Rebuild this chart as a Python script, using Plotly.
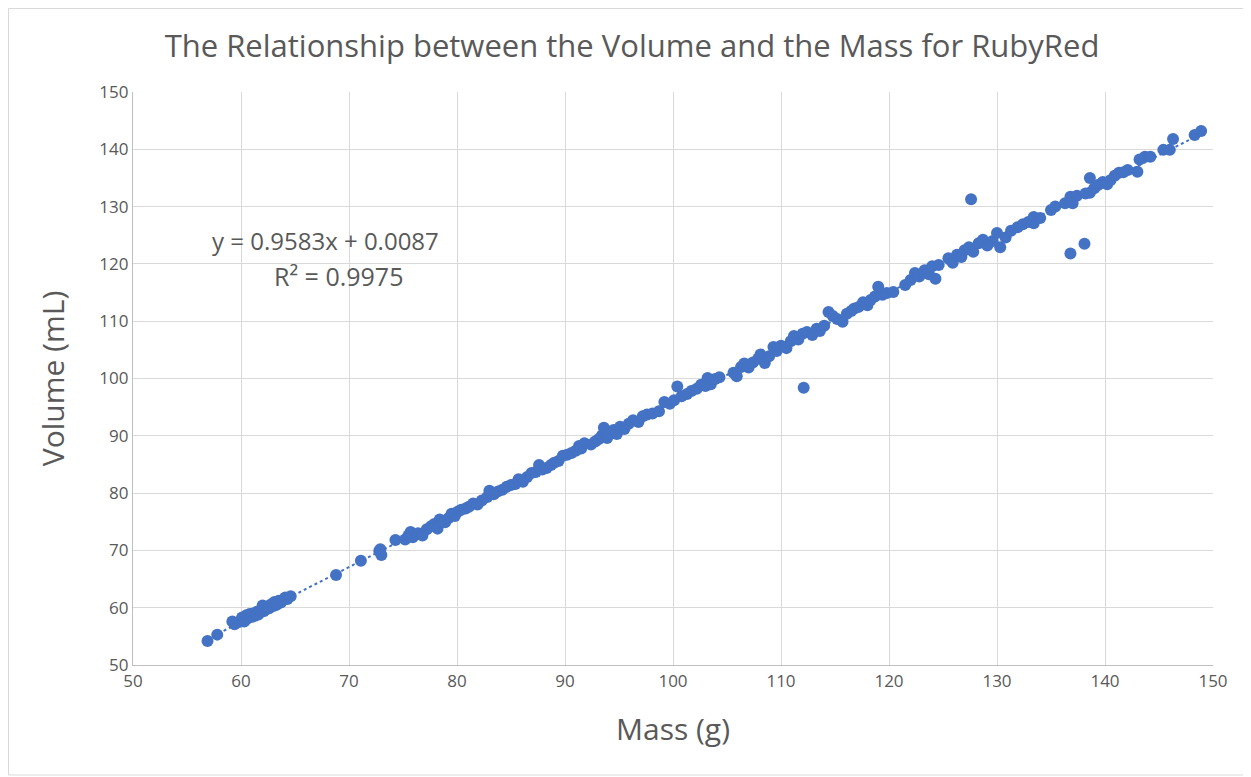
import plotly.graph_objects as go

# ---- data ----
mass = [
    56.9, 57.8, 59.2, 59.4, 59.8, 60.1, 60.3, 60.5, 60.6, 60.8, 61.0, 61.1, 61.3, 61.5, 61.6,
    61.8, 62.0, 62.1, 62.3, 62.4, 62.6, 62.8, 63.0, 63.1, 63.3, 63.5, 63.7, 63.9, 64.1, 64.3, 64.6,
    68.8, 71.1, 72.8, 73.0, 72.9,
    74.3, 75.2, 75.5, 75.7, 75.9, 76.4, 76.8, 77.2, 77.6, 77.9, 78.2, 78.4, 78.6, 78.9, 79.2,
    79.5, 79.8, 80.1, 80.4, 80.8, 81.1, 81.5, 81.9, 82.3, 82.8, 83.0, 83.4, 83.8, 84.2, 84.6,
    85.0, 85.4, 85.7, 86.1, 86.5, 86.9, 87.3, 87.6, 87.9, 88.3, 88.7, 89.0, 89.4, 89.8,
    90.2, 90.6, 91.0, 91.3, 91.5, 91.8, 92.4, 92.8, 93.1, 93.4, 93.6, 93.9, 94.2, 94.5, 94.8,
    95.1, 95.5, 95.9, 96.3, 96.8, 97.2, 97.6, 98.1, 98.7, 99.2, 99.7,
    100.1, 100.4, 100.8, 101.3, 101.7, 102.2, 102.6, 103.0, 103.2, 103.5, 103.9, 104.3, 105.6,
    105.9, 106.3, 106.6, 107.0, 107.4, 107.9, 108.1, 108.5, 108.9, 109.3, 109.6, 110.0, 110.5,
    110.9, 111.2, 111.6, 112.0, 112.4, 112.9, 113.3, 113.6, 114.0, 114.4, 114.8, 115.2, 115.7,
    116.1, 116.5, 116.8, 117.2, 117.6, 118.0, 118.3, 118.7, 119.0, 119.4, 119.8, 112.1,
    120.4, 121.5, 122.0, 122.4, 122.8, 123.3, 123.7, 124.0, 124.3, 124.6, 125.5, 125.9, 126.3,
    126.7, 127.0, 127.4, 127.8, 128.3, 128.7, 129.1, 129.6, 130.0, 130.3, 130.8, 131.3, 131.9,
    132.4, 132.9, 133.4, 133.4, 134.0, 135.0, 135.4, 136.3, 136.8, 137.0, 137.4, 138.2, 138.6,
    138.6, 139.0, 139.4, 139.8, 140.2, 140.5, 140.9, 141.3, 141.7, 142.1, 143.0, 143.2, 143.7,
    144.2, 145.4, 146.0, 146.3, 148.3, 148.9, 127.6, 136.8, 138.1,
]
volume = [
    54.2, 55.3, 57.6, 57.1, 57.5, 58.3, 57.6, 58.7, 58.1, 58.9, 58.4, 59.0, 58.6, 59.3, 58.8,
    59.5, 60.4, 59.4, 59.7, 60.2, 59.9, 60.6, 60.3, 61.0, 60.5, 61.2, 60.9, 61.4, 61.8, 61.5, 62.0,
    65.7, 68.2, 69.9, 69.2, 70.2,
    71.8, 71.9, 72.6, 73.2, 72.3, 73.0, 72.6, 73.7, 74.2, 74.6, 73.8, 75.4, 75.0, 74.9, 75.6,
    76.4, 76.0, 76.8, 77.1, 77.3, 77.6, 78.2, 78.0, 78.7, 79.3, 80.4, 79.8, 80.3, 80.6, 81.1,
    81.4, 81.6, 82.4, 82.0, 82.8, 83.5, 83.7, 84.9, 84.1, 84.4, 84.9, 85.3, 85.6, 86.5,
    86.7, 87.0, 87.4, 88.2, 87.8, 88.7, 88.5, 89.0, 89.4, 90.0, 91.4, 89.6, 90.4, 91.0, 90.3,
    91.6, 91.2, 92.1, 92.7, 92.4, 93.4, 93.7, 93.9, 94.3, 95.9, 95.6,
    96.2, 98.6, 96.9, 97.3, 97.8, 98.2, 98.9, 98.7, 100.1, 99.0, 99.9, 100.2, 101.0,
    100.4, 102.0, 102.6, 101.9, 102.8, 103.5, 104.2, 102.7, 103.9, 105.5, 104.8, 105.7, 105.3,
    106.5, 107.4, 106.8, 107.8, 108.1, 107.6, 108.7, 108.3, 109.2, 111.6, 110.9, 110.4, 109.9,
    111.3, 111.8, 112.2, 112.5, 113.3, 112.8, 113.7, 114.3, 116.0, 114.6, 114.9, 98.4,
    115.1, 116.3, 117.2, 118.4, 117.8, 118.9, 118.2, 119.6, 117.4, 119.8, 121.0, 120.2, 121.6,
    121.2, 122.4, 122.9, 122.1, 123.6, 124.2, 123.2, 124.0, 125.4, 122.9, 124.6, 125.8, 126.4,
    126.9, 127.3, 128.2, 127.1, 128.0, 129.4, 130.0, 130.6, 131.7, 130.6, 131.9, 132.3, 135.0,
    132.4, 133.2, 133.8, 134.3, 133.9, 134.6, 135.4, 135.9, 136.0, 136.4, 136.1, 138.2, 138.7,
    138.7, 139.9, 139.9, 141.8, 142.5, 143.2, 131.3, 121.8, 123.5,
]

slope = 0.9583
intercept = 0.0087
r_squared = 0.9975

x_ticks = [50, 60, 70, 80, 90, 100, 110, 120, 130, 140, 150]
y_ticks = [50, 60, 70, 80, 90, 100, 110, 120, 130, 140, 150]

title_text = "The Relationship between the Volume and the Mass for RubyRed"
x_title = "Mass (g)"
y_title = "Volume (mL)"

# ---- figure ----
blue = "#4472C4"
grey_text = "#595959"
font_family = "Open Sans, Liberation Sans, sans-serif"

trend_x = [min(mass), max(mass)]
trend_y = [slope * v + intercept for v in trend_x]

fig = go.Figure()
fig.add_trace(go.Scatter(
    x=mass, y=volume, mode="markers",
    marker=dict(color=blue, size=12, line=dict(width=0)),
    showlegend=False, hoverinfo="x+y",
))
fig.add_trace(go.Scatter(
    x=trend_x, y=trend_y, mode="lines",
    line=dict(color=blue, width=2, dash="dot"),
    showlegend=False, hoverinfo="skip",
))

# page body has an 8px margin; figure is placed so the plot area matches the reference
W, H = 1243, 769
L, R, T, B = 125, 38, 84, 112
pw, ph = W - L - R, H - T - B

fig.update_layout(
    width=W, height=H, autosize=False,
    margin=dict(l=L, r=R, t=T, b=B, pad=0),
    paper_bgcolor="white", plot_bgcolor="white",
    font=dict(family=font_family, color=grey_text),
    title=dict(
        text=title_text, x=624 / W, xref="container", xanchor="center",
        y=1 - 38 / H, yref="container", yanchor="middle",
        font=dict(size=31, color=grey_text, family=font_family),
    ),
    xaxis=dict(
        range=[50, 150], tickvals=x_ticks, ticktext=[str(v) for v in x_ticks],
        showgrid=True, gridcolor="#D9D9D9", gridwidth=1.3,
        showline=True, linecolor="#BFBFBF", linewidth=1.3,
        zeroline=False, ticks="", tickfont=dict(size=17, color=grey_text),
        title=dict(text=x_title, font=dict(size=30, color=grey_text), standoff=28),
    ),
    yaxis=dict(
        range=[50, 150], tickvals=y_ticks, ticktext=[str(v) for v in y_ticks],
        showgrid=True, gridcolor="#D9D9D9", gridwidth=1.3,
        showline=True, linecolor="#BFBFBF", linewidth=1.3,
        zeroline=False, ticks="", tickfont=dict(size=17, color=grey_text),
        title=dict(text=y_title, font=dict(size=30, color=grey_text), standoff=25),
    ),
    shapes=[dict(
        type="rect", xref="paper", yref="paper",
        x0=(0.5 - L) / pw, x1=(1240 - L) / pw,
        y0=(H - B - 767) / ph, y1=(H - B - 0.5) / ph,
        line=dict(color="#D9D9D9", width=1), fillcolor="rgba(0,0,0,0)", layer="below",
    )],
    annotations=[
        dict(text=f"y = {slope}x + {intercept}", x=67.8, y=124.0, xref="x", yref="y",
             showarrow=False, font=dict(size=24, color=grey_text), xanchor="center", yanchor="middle"),
        dict(text=f"R² = {r_squared}", x=69.0, y=117.9, xref="x", yref="y",
             showarrow=False, font=dict(size=25, color=grey_text), xanchor="center", yanchor="middle"),
    ],
)

fig.write_html("out.html")
